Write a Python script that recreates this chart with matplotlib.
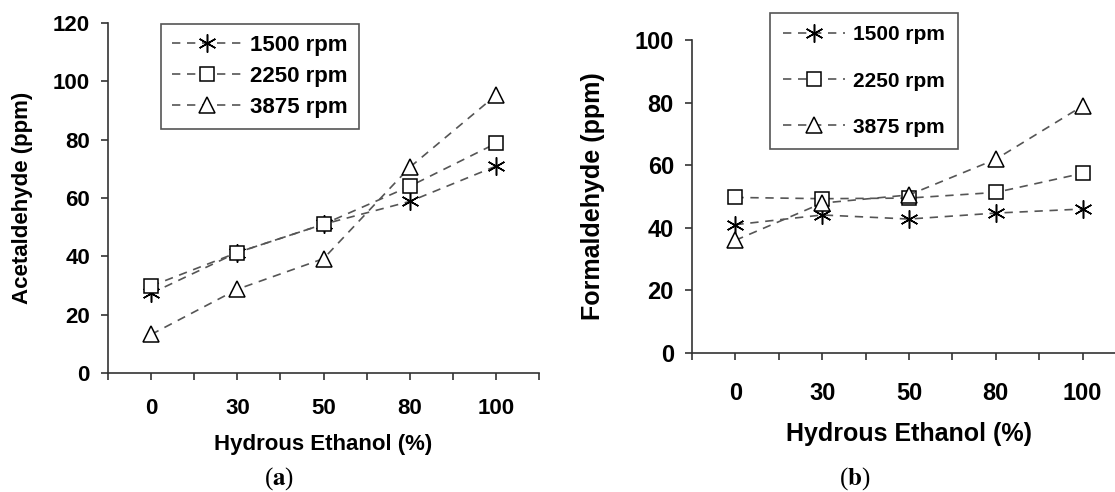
import matplotlib
matplotlib.use("Agg")
import matplotlib.pyplot as plt
from matplotlib.ticker import FixedLocator

plt.rcParams["font.family"] = ["Liberation Sans", "DejaVu Sans"]
plt.rcParams["mathtext.fontset"] = "stix"

# data
ethanol = ["0", "30", "50", "80", "100"]
series = ["1500 rpm", "2250 rpm", "3875 rpm"]

acet_1500 = [27.3, 41.3, 51.0, 58.8, 70.9]
acet_2250 = [29.8, 41.3, 51.0, 64.0, 78.7]
acet_3875 = [13.2, 28.7, 39.2, 70.5, 95.2]

form_1500 = [41.0, 44.1, 42.8, 44.7, 46.0]
form_2250 = [49.7, 49.3, 49.5, 51.3, 57.4]
form_3875 = [36.0, 47.9, 50.5, 61.9, 78.9]

markers = [(6, 2, 0), "s", "^"]
msizes = [13, 10, 11.5]
line_col = "#555555"
axis_col = "#333333"


def draw_panel(ax, data, ylabel, ymax, tick_fs, label_fs, xpad, ylabel_x, xlabelpad):
    x = list(range(len(ethanol)))
    for vals, lab, m, ms in zip(data, series, markers, msizes):
        ax.plot(x, vals, color=line_col, lw=1.2, dashes=(5, 4),
                marker=m, ms=ms, mfc="white", mec="black", mew=1.1, label=lab)
    ax.set_xlim(-0.5, len(ethanol) - 0.5)
    ax.set_ylim(0, ymax)
    ax.set_yticks(range(0, ymax + 1, 20))
    ax.set_xticks(x)
    ax.set_xticklabels(ethanol)
    ax.xaxis.set_minor_locator(FixedLocator([i - 0.5 for i in range(len(ethanol) + 1)]))
    for s in ["top", "right"]:
        ax.spines[s].set_visible(False)
    for s in ["left", "bottom"]:
        ax.spines[s].set_color(axis_col)
        ax.spines[s].set_linewidth(1.2)
    ax.tick_params(axis="x", which="both", direction="out", length=5, width=1.2,
                   color=axis_col, pad=xpad)
    ax.tick_params(axis="y", direction="out", length=5, width=1.2, color=axis_col, pad=8)
    for t in ax.get_xticklabels() + ax.get_yticklabels():
        t.set_fontsize(tick_fs)
        t.set_fontweight("bold")
    ax.set_xlabel("Hydrous Ethanol (%)", fontsize=label_fs, fontweight="bold", labelpad=xlabelpad)
    ax.set_ylabel(ylabel, fontsize=label_fs, fontweight="bold")
    ax.yaxis.set_label_coords(ylabel_x, 0.5)


fig = plt.figure(figsize=(11.15, 4.92), dpi=100)
ax1 = fig.add_axes([0.0969, 0.2419, 0.3865, 0.7114])
ax2 = fig.add_axes([0.6206, 0.2825, 0.3892, 0.6362])

draw_panel(ax1, [acet_1500, acet_2250, acet_3875], "Acetaldehyde (ppm)", 120,
           16, 16, 13, -0.175, 11)
draw_panel(ax2, [form_1500, form_2250, form_3875], "Formaldehyde (ppm)", 100,
           17, 18, 16, -0.2, 12)

leg1 = ax1.legend(loc="upper left", bbox_to_anchor=(0.1444, 0.9512), bbox_transform=fig.transFigure,
                  borderaxespad=0, prop={"weight": "bold", "size": 16},
                  handlelength=3.1, handletextpad=0.4, labelspacing=0.45, borderpad=0.5,
                  fancybox=False, framealpha=1, edgecolor="#555555")
leg2 = ax2.legend(loc="upper left", bbox_to_anchor=(0.6906, 0.9736), bbox_transform=fig.transFigure,
                  borderaxespad=0, prop={"weight": "bold", "size": 15},
                  handlelength=3.0, handletextpad=0.4, labelspacing=1.3, borderpad=0.6,
                  fancybox=False, framealpha=1, edgecolor="#555555")
for leg in (leg1, leg2):
    leg.get_frame().set_linewidth(1.2)

fig.text(0.25, 0.0, r"($\mathbf{a}$)", ha="center", va="bottom", fontsize=18,
         family="Liberation Serif")
fig.text(0.767, 0.0, r"($\mathbf{b}$)", ha="center", va="bottom", fontsize=18,
         family="Liberation Serif")

fig.savefig("out.png", dpi=100)
